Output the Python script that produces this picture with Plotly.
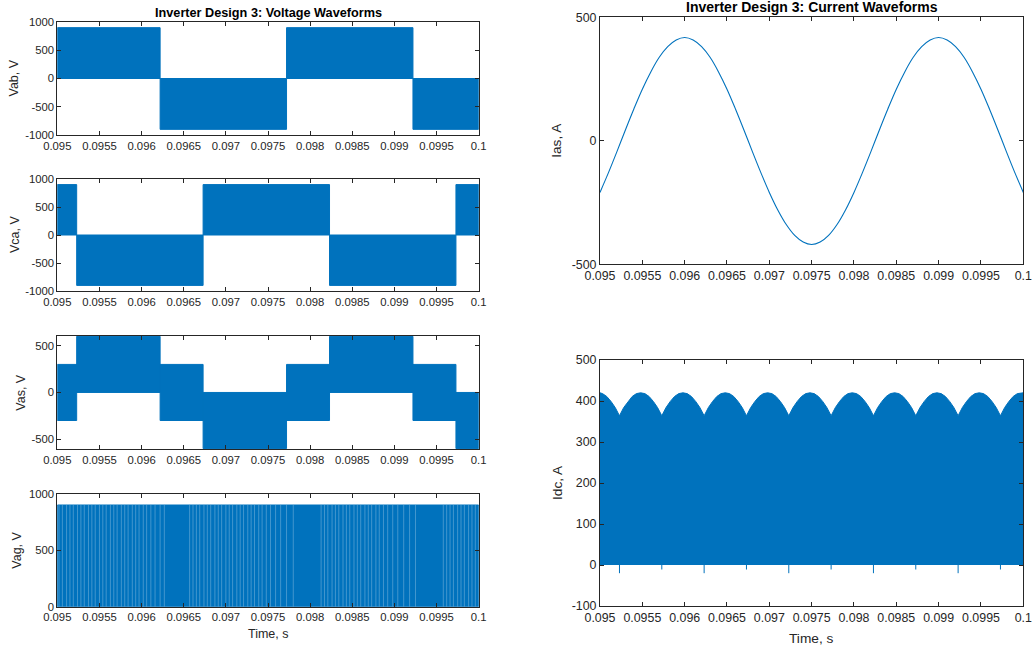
import plotly.graph_objects as go

BLUE = "#0072BD"
AX = "#262626"
FONT = "Liberation Sans, Arial, Helvetica, sans-serif"
W, H = 1034, 649

# ---------------- data ----------------
x_tick_vals = [0.095, 0.0955, 0.096, 0.0965, 0.097, 0.0975, 0.098, 0.0985, 0.099, 0.0995, 0.1]
x_tick_text = ["0.095", "0.0955", "0.096", "0.0965", "0.097", "0.0975", "0.098",
               "0.0985", "0.099", "0.0995", "0.1"]

# PWM voltage envelopes: segment edges (s) and lower/upper switching levels (V)
vab_edges = [0.095, 0.09622, 0.09772, 0.09922, 0.1]
vab_low = [0, -900, 0, -900]
vab_high = [900, 0, 900, 0]

vca_edges = [0.095, 0.09523, 0.09673, 0.09823, 0.09973, 0.1]
vca_low = [0, -900, 0, -900, 0]
vca_high = [900, 0, 900, 0, 900]

vas_edges = [0.095, 0.09523, 0.09622, 0.09673, 0.09772, 0.09823, 0.09922, 0.09973, 0.1]
vas_low = [-300, 0, -300, -600, -300, 0, -300, -600]
vas_high = [300, 600, 300, 0, 300, 600, 300, 0]

vag_edges = [0.095, 0.1]
vag_low = [0]
vag_high = [900]
# visible gaps (light stripes) in the Vag switching pattern
vag_stripe_t = [
    0.09502, 0.09506, 0.09511, 0.09515, 0.09519, 0.09524, 0.09528, 0.09532, 0.09537, 0.09541,
    0.09545, 0.09550, 0.09554, 0.09558, 0.09563, 0.09567, 0.09571, 0.09576, 0.09580, 0.09584,
    0.09589, 0.09593, 0.09597, 0.09602, 0.09606, 0.09611, 0.09616, 0.09622, 0.09627,
    0.09657, 0.09661, 0.09665, 0.09669, 0.09674, 0.09678, 0.09682, 0.09687, 0.09691, 0.09695,
    0.09700, 0.09704, 0.09708, 0.09713, 0.09717, 0.09721, 0.09726, 0.09730, 0.09734, 0.09739,
    0.09743, 0.09748, 0.09753, 0.09759, 0.09765, 0.09772, 0.09780,
    0.09813, 0.09817, 0.09821, 0.09826, 0.09830, 0.09834, 0.09839, 0.09843, 0.09847, 0.09852,
    0.09856, 0.09860, 0.09865, 0.09869, 0.09873, 0.09878, 0.09882, 0.09887, 0.09892, 0.09898,
    0.09904, 0.09911, 0.09918, 0.09925,
    0.09958, 0.09962, 0.09966, 0.09970, 0.09975, 0.09979, 0.09983, 0.09988, 0.09992, 0.09996,
]

# Phase current Ias (A)
ias_t = [0.0950, 0.0951, 0.0952, 0.0953, 0.0954, 0.0955, 0.0956, 0.0957, 0.0958, 0.0959,
         0.0960, 0.0961, 0.0962, 0.0963, 0.0964, 0.0965, 0.0966, 0.0967, 0.0968, 0.0969,
         0.0970, 0.0971, 0.0972, 0.0973, 0.0974, 0.0975, 0.0976, 0.0977, 0.0978, 0.0979,
         0.0980, 0.0981, 0.0982, 0.0983, 0.0984, 0.0985, 0.0986, 0.0987, 0.0988, 0.0989,
         0.0990, 0.0991, 0.0992, 0.0993, 0.0994, 0.0995, 0.0996, 0.0997, 0.0998, 0.0999,
         0.1000]
ias_v = [-209, -129, -44, 44, 129, 209, 279, 338, 381, 408,
         418, 408, 381, 338, 279, 209, 129, 44, -44, -129,
         -209, -280, -339, -383, -410, -420, -410, -383, -339, -280,
         -209, -129, -44, 44, 129, 209, 279, 338, 381, 408,
         418, 408, 381, 338, 279, 209, 129, 44, -44, -129,
         -209]

# DC-link current envelope (A): start, cusp times, hump profile, end
idc_start_t = [0.09500, 0.09503, 0.09508, 0.09513, 0.09518]
idc_start_v = [420, 418, 411, 399, 384]
idc_cusp_t = [0.09523, 0.09573, 0.09623, 0.09673, 0.09723, 0.09773, 0.09823, 0.09873, 0.09923, 0.09973]
idc_hump_dt = [0.0, 0.00005, 0.0001, 0.00015, 0.0002, 0.00025, 0.0003, 0.00035, 0.0004, 0.00045]
idc_hump_v = [364, 384, 399, 411, 418, 420, 418, 411, 399, 384]
idc_end_t = [0.09973, 0.09978, 0.09983, 0.09988, 0.09993, 0.09998, 0.1]
idc_end_v = [364, 384, 399, 411, 418, 420, 420]
idc_spike_v = [-20, -11, -20, -11, -20, -11, -20, -11, -20, -11]


# ---------------- helpers ----------------
def block_polys(edges, lows, highs):
    xs, ys = [], []
    for i in range(len(lows)):
        t0, t1 = edges[i], edges[i + 1]
        xs += [t0, t1, t1, t0, t0, None]
        ys += [lows[i], lows[i], highs[i], highs[i], lows[i], None]
    return xs, ys


def block_trace(edges, lows, highs, xa, ya):
    xs, ys = block_polys(edges, lows, highs)
    return go.Scatter(x=xs, y=ys, mode="lines", fill="toself", fillcolor=BLUE,
                      line=dict(color=BLUE, width=1), xaxis=xa, yaxis=ya,
                      hoverinfo="skip", showlegend=False)


fig = go.Figure()
fig.add_trace(block_trace(vab_edges, vab_low, vab_high, "x", "y"))
fig.add_trace(block_trace(vca_edges, vca_low, vca_high, "x2", "y2"))
fig.add_trace(block_trace(vas_edges, vas_low, vas_high, "x3", "y3"))
fig.add_trace(block_trace(vag_edges, vag_low, vag_high, "x4", "y4"))

sx, sy = [], []
for t in vag_stripe_t:
    sx += [t, t, None]
    sy += [vag_low[0], vag_high[0], None]
fig.add_trace(go.Scatter(x=sx, y=sy, mode="lines", line=dict(color="rgba(255,255,255,0.26)", width=1),
                         xaxis="x4", yaxis="y4", hoverinfo="skip", showlegend=False))

fig.add_trace(go.Scatter(x=ias_t, y=ias_v, mode="lines", line=dict(color=BLUE, width=1.1, shape="spline"),
                         xaxis="x5", yaxis="y5", hoverinfo="skip", showlegend=False))

env_t = list(idc_start_t)
env_v = list(idc_start_v)
for c in idc_cusp_t[:-1]:
    for dt, v in zip(idc_hump_dt, idc_hump_v):
        env_t.append(c + dt)
        env_v.append(v)
env_t += idc_end_t
env_v += idc_end_v
fig.add_trace(go.Scatter(x=env_t, y=env_v, mode="lines", fill="tozeroy", fillcolor=BLUE,
                         line=dict(color=BLUE, width=1), xaxis="x6", yaxis="y6",
                         hoverinfo="skip", showlegend=False))
kx, ky = [], []
for t, v in zip(idc_cusp_t, idc_spike_v):
    kx += [t, t, None]
    ky += [0, v, None]
fig.add_trace(go.Scatter(x=kx, y=ky, mode="lines", line=dict(color=BLUE, width=1),
                         xaxis="x6", yaxis="y6", hoverinfo="skip", showlegend=False))


# ---------------- layout ----------------
def px_x(a, b):
    return [a / W, b / W]


def px_y(top, bottom):
    return [1 - bottom / H, 1 - top / H]


LX = px_x(57.3, 478.7)
RX = px_x(600.0, 1023.3)
doms = {
    1: (LX, px_y(22.0, 135.0)),
    2: (LX, px_y(179.0, 291.0)),
    3: (LX, px_y(336.0, 449.3)),
    4: (LX, px_y(493.7, 606.7)),
    5: (RX, px_y(17.3, 264.3)),
    6: (RX, px_y(360.0, 606.0)),
}
yranges = {1: [-1000, 1000], 2: [-1000, 1000], 3: [-608, 604], 4: [0, 1000], 5: [-500, 500], 6: [-100, 500]}
yticks = {1: [-1000, -500, 0, 500, 1000], 2: [-1000, -500, 0, 500, 1000], 3: [-500, 0, 500],
          4: [0, 500, 1000], 5: [-500, 0, 500], 6: [-100, 0, 100, 200, 300, 400, 500]}

layout = dict(width=W, height=H, margin=dict(l=0, r=0, t=0, b=0, autoexpand=False),
              paper_bgcolor="white", plot_bgcolor="white", showlegend=False)
for i in range(1, 7):
    fs = 11.3 if i <= 4 else 12.4
    xd, yd = doms[i]
    common = dict(ticks="inside", ticklen=4, tickwidth=1, tickcolor=AX, showline=True, linecolor=AX,
                  linewidth=1, mirror="ticks", showgrid=False, zeroline=False, fixedrange=True,
                  automargin=False, tickfont=dict(family=FONT, size=fs, color=AX))
    sfx = "" if i == 1 else str(i)
    layout["xaxis" + sfx] = dict(domain=xd, anchor="y" + sfx, range=[0.095, 0.1],
                                 tickvals=x_tick_vals, ticktext=x_tick_text, **common)
    layout["yaxis" + sfx] = dict(domain=yd, anchor="x" + sfx, range=yranges[i],
                                 tickvals=yticks[i], ticktext=[str(v) for v in yticks[i]], **common)

fig.update_layout(**layout)

ann = []


def add_text(text, xpx, ypx, size, bold=False, angle=0, color=AX):
    ann.append(dict(text=("<b>%s</b>" % text) if bold else text, x=xpx / W, y=1 - ypx / H,
                    xref="paper", yref="paper", xanchor="center", yanchor="middle",
                    showarrow=False, textangle=angle,
                    font=dict(family=FONT, size=size, color=color)))


add_text("Inverter Design 3: Voltage Waveforms", 268.0, 12.7, 12.7, bold=True, color="black")
add_text("Inverter Design 3: Current Waveforms", 811.7, 6.9, 14.0, bold=True, color="black")
add_text("Vab, V", 14.0, 78.5, 12.5, angle=-90)
add_text("Vca, V", 15.0, 235.0, 12.5, angle=-90)
add_text("Vas, V", 21.0, 392.7, 12.5, angle=-90)
add_text("Vag, V", 17.5, 550.2, 12.5, angle=-90)
add_text("Time, s", 268.0, 634.0, 12.5)
add_text("Ias, A", 557.0, 140.8, 13.7, angle=-90)
add_text("Idc, A", 557.0, 483.0, 13.7, angle=-90)
add_text("Time, s", 811.7, 638.7, 13.7)
fig.update_layout(annotations=ann)

fig.write_html("out.html", config={"displayModeBar": False, "staticPlot": True},
               post_script="document.body.style.margin='0px';document.body.style.padding='0px';"
                           "document.body.style.overflow='hidden';")
